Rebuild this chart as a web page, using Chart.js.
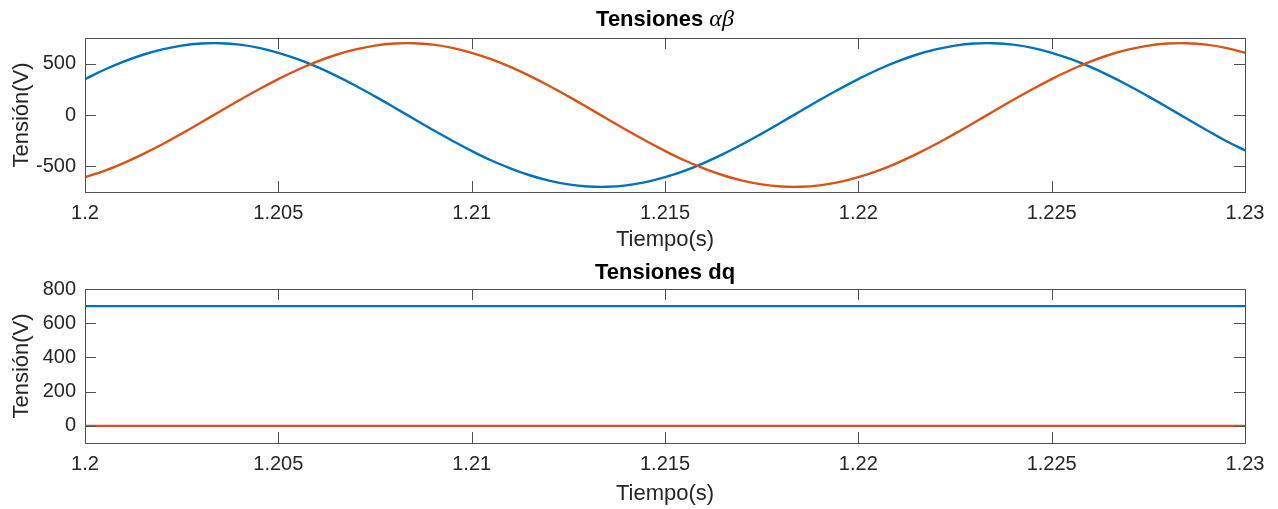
<!DOCTYPE html>
<html>
<head>
<meta charset="utf-8">
<script src="https://cdn.jsdelivr.net/npm/chart.js@4.4.0/dist/chart.umd.min.js"></script>
<style>
  html, body { margin: 0; padding: 0; background: #fff; }
  .plot { position: absolute; left: 0; width: 1278px; }
  #top { top: 0; height: 255px; }
  #bottom { top: 255px; height: 254px; }
</style>
</head>
<body>
<div class="plot" id="top"><canvas id="abChart"></canvas></div>
<div class="plot" id="bottom"><canvas id="dqChart"></canvas></div>
<script>
const time = [1.2000, 1.2005, 1.2010, 1.2015, 1.2020, 1.2025, 1.2030, 1.2035, 1.2040, 1.2045,
              1.2050, 1.2055, 1.2060, 1.2065, 1.2070, 1.2075, 1.2080, 1.2085, 1.2090, 1.2095,
              1.2100, 1.2105, 1.2110, 1.2115, 1.2120, 1.2125, 1.2130, 1.2135, 1.2140, 1.2145,
              1.2150, 1.2155, 1.2160, 1.2165, 1.2170, 1.2175, 1.2180, 1.2185, 1.2190, 1.2195,
              1.2200, 1.2205, 1.2210, 1.2215, 1.2220, 1.2225, 1.2230, 1.2235, 1.2240, 1.2245,
              1.2250, 1.2255, 1.2260, 1.2265, 1.2270, 1.2275, 1.2280, 1.2285, 1.2290, 1.2295,
              1.2300];
const vAlpha = [350, 441, 520, 587, 639, 676, 696, 699, 685, 654,
                606, 544, 468, 381, 285, 181, 73, -37, -146, -251,
                -350, -441, -520, -587, -639, -676, -696, -699, -685, -654,
                -606, -544, -468, -381, -285, -181, -73, 37, 146, 251,
                350, 441, 520, 587, 639, 676, 696, 699, 685, 654,
                606, 544, 468, 381, 285, 181, 73, -37, -146, -251,
                -345];
const vBeta = [-606, -544, -468, -381, -285, -181, -73, 37, 146, 251,
               350, 441, 520, 587, 639, 676, 696, 699, 685, 654,
               606, 544, 468, 381, 285, 181, 73, -37, -146, -251,
               -350, -441, -520, -587, -639, -676, -696, -699, -685, -654,
               -606, -544, -468, -381, -285, -181, -73, 37, 146, 251,
               350, 441, 520, 587, 639, 676, 696, 699, 685, 654,
               606];

const dqTime = [1.2, 1.23];
const vD = [700, 700];
const vQ = [0, 0];

const xTicks = [1.2, 1.205, 1.21, 1.215, 1.22, 1.225, 1.23];
const abTicks = [-500, 0, 500];
const dqTicks = [0, 200, 400, 600, 800];

const BLUE = '#0072BD';
const ORANGE = '#D95319';

Chart.defaults.font.family = '"Liberation Sans", Arial, sans-serif';
Chart.defaults.color = '#262626';

// MATLAB-like box with inward ticks, plus a title that mixes fonts
const matlabAxes = {
  id: 'matlabAxes',
  afterDatasetsDraw(chart, args, opts) {
    const { ctx, chartArea: a, scales } = chart;
    ctx.save();
    ctx.strokeStyle = '#505050';
    ctx.lineWidth = 1;
    ctx.beginPath();
    scales.x.ticks.forEach(t => {
      const px = Math.round(scales.x.getPixelForValue(t.value)) + 0.5;
      ctx.moveTo(px, a.bottom); ctx.lineTo(px, a.bottom - 11);
      ctx.moveTo(px, a.top); ctx.lineTo(px, a.top + 11);
    });
    scales.y.ticks.forEach(t => {
      const py = Math.round(scales.y.getPixelForValue(t.value)) + 0.5;
      ctx.moveTo(a.left, py); ctx.lineTo(a.left + 11, py);
      ctx.moveTo(a.right, py); ctx.lineTo(a.right - 11, py);
    });
    ctx.stroke();
    ctx.strokeRect(Math.round(a.left) + 0.5, Math.round(a.top) + 0.5,
                   Math.round(a.right - a.left), Math.round(a.bottom - a.top));

    // title
    const parts = opts.parts || [];
    let total = 0;
    parts.forEach(p => { ctx.font = p.font; p.w = ctx.measureText(p.text).width; total += p.w; });
    let x = (a.left + a.right) / 2 - total / 2;
    const y = a.top - opts.offset;
    ctx.fillStyle = '#000';
    ctx.textBaseline = 'alphabetic';
    ctx.textAlign = 'left';
    parts.forEach(p => { ctx.font = p.font; ctx.fillText(p.text, x, y); x += p.w; });
    ctx.restore();
  }
};

function xScale(height) {
  return {
    type: 'linear',
    min: 1.2,
    max: 1.23,
    grid: { display: false, drawTicks: false },
    border: { display: false },
    afterBuildTicks: s => { s.ticks = xTicks.map(v => ({ value: v })); },
    afterFit: s => { s.height = height; },
    ticks: {
      autoSkip: false,
      maxRotation: 0,
      padding: 9,
      font: { size: 20 },
      color: '#262626',
      callback: v => String(+v.toFixed(3))
    },
    title: { display: true, text: 'Tiempo(s)', font: { size: 22 }, color: '#262626', padding: 2 }
  };
}

function yScale(min, max, tickVals) {
  return {
    type: 'linear',
    min: min,
    max: max,
    grid: { display: false, drawTicks: false },
    border: { display: false },
    afterBuildTicks: s => { s.ticks = tickVals.map(v => ({ value: v })); },
    afterFit: s => { s.width = 85; },
    ticks: { autoSkip: false, padding: 9, font: { size: 20 }, color: '#262626' },
    title: { display: true, text: 'Tensión(V)', font: { size: 22 }, color: '#262626', padding: 9 }
  };
}

function lineSet(xs, ys, color, order) {
  return {
    data: xs.map((t, i) => ({ x: t, y: ys[i] })),
    borderColor: color,
    borderWidth: 2.4,
    pointRadius: 0,
    tension: 0.4,
    fill: false,
    order: order
  };
}

const common = {
  responsive: true,
  maintainAspectRatio: false,
  animation: false,
  events: [],
  plugins: { legend: { display: false }, tooltip: { enabled: false } }
};

new Chart(document.getElementById('abChart'), {
  type: 'line',
  data: {
    datasets: [
      lineSet(time, vAlpha, BLUE, 1),
      lineSet(time, vBeta, ORANGE, 0)
    ]
  },
  options: {
    ...common,
    layout: { padding: { top: 38, right: 33, left: 0, bottom: 0 } },
    scales: { x: xScale(63), y: yScale(-750, 750, abTicks) },
    plugins: {
      ...common.plugins,
      matlabAxes: {
        offset: 12,
        parts: [
          { text: 'Tensiones ', font: 'bold 22px "Liberation Sans", Arial, sans-serif' },
          { text: 'αβ', font: 'italic 24px "Liberation Serif", "DejaVu Serif", serif' }
        ]
      }
    }
  },
  plugins: [matlabAxes]
});

new Chart(document.getElementById('dqChart'), {
  type: 'line',
  data: {
    datasets: [
      lineSet(dqTime, vD, BLUE, 1),
      lineSet(dqTime, vQ, ORANGE, 0)
    ]
  },
  options: {
    ...common,
    layout: { padding: { top: 34, right: 33, left: 0, bottom: 0 } },
    scales: { x: xScale(66), y: yScale(-100, 800, dqTicks) },
    plugins: {
      ...common.plugins,
      matlabAxes: {
        offset: 10,
        parts: [
          { text: 'Tensiones dq', font: 'bold 22px "Liberation Sans", Arial, sans-serif' }
        ]
      }
    }
  },
  plugins: [matlabAxes]
});
</script>
</body>
</html>
